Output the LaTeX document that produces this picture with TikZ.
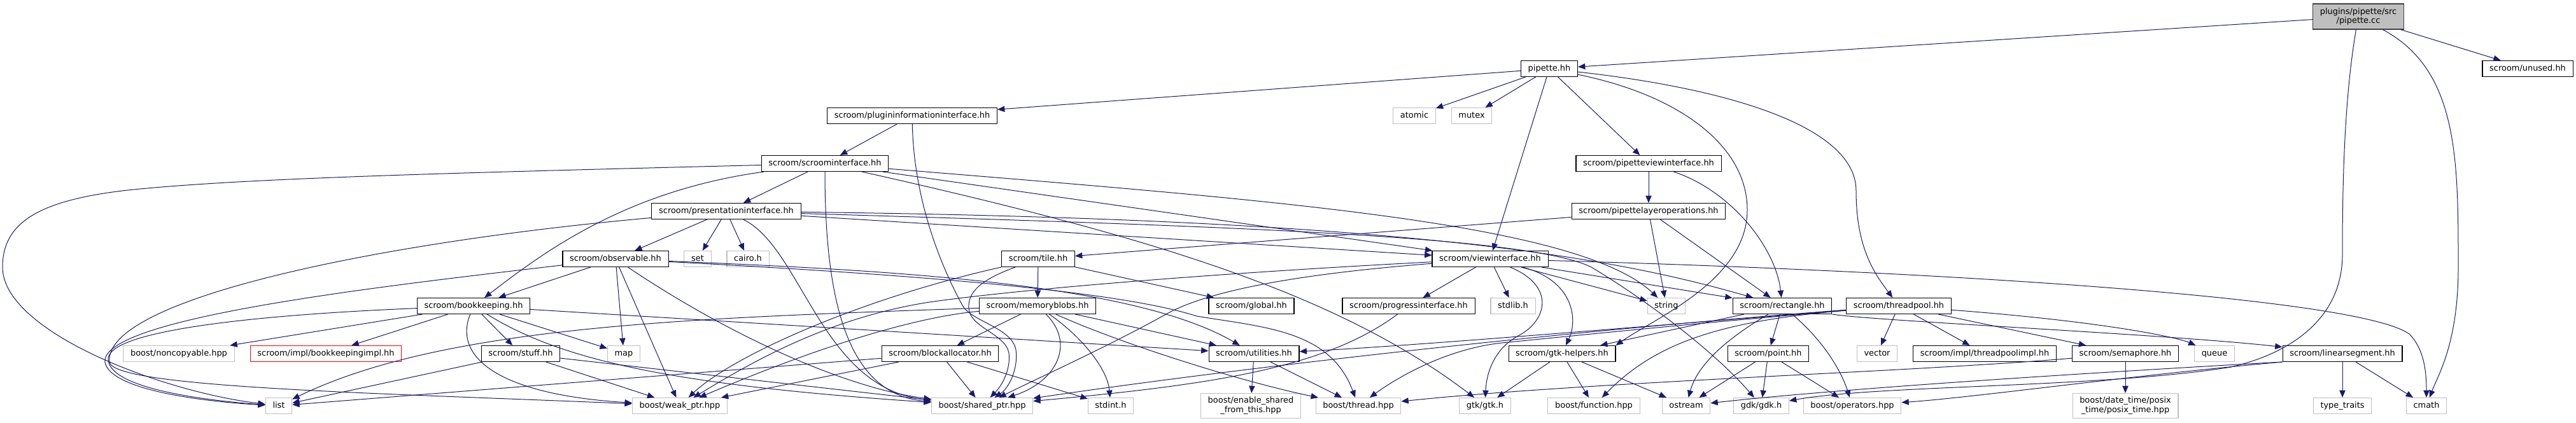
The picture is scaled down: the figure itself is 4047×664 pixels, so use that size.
\documentclass[tikz,border=0pt]{standalone}
\usepackage{fontspec}
\setmainfont{DejaVu Sans}
\usetikzlibrary{arrows.meta}
\definecolor{edgeblue}{HTML}{191970}
\definecolor{extgray}{HTML}{BFBFBF}
\newcommand{\graphfont}{\fontsize{9.7}{11.1}\selectfont}
\tikzset{
  file/.style={rectangle, line width=0.8pt, font=\graphfont, inner xsep=8.4pt, inner ysep=0pt, minimum height=18.75pt},
  oneline/.style={text height=7.4pt, text depth=2.3pt},
  hdr/.style={file, oneline, draw=black},
  ext/.style={file, oneline, draw=extgray},
  ext2/.style={file, draw=extgray, align=center, minimum height=29.25pt},
  trunc/.style={file, oneline, draw=red},
  root/.style={file, draw=black!75, fill=extgray, align=center, minimum height=30pt},
  dep/.style={draw=edgeblue, line width=0.75pt, -{Triangle[length=8.5pt,width=7pt]}}
}
\begin{document}
\begin{tikzpicture}[x=0.75pt,y=-0.75pt]
\useasboundingbox (0,0) rectangle (4047,664);

\node[root] (cc) at (3705,26) {plugins/pipette/src\\/pipette.cc};
\node[hdr] (pipettehh) at (2434,108) {pipette.hh};
\node[hdr] (unused) at (3971,108) {scroom/unused.hh};
\node[ext] (atomic) at (2222,182) {atomic};
\node[ext] (mutex) at (2312,182) {mutex};
\node[hdr] (plugininfo) at (1433,182) {scroom/plugininformationinterface.hh};
\node[hdr] (scroomif) at (1296,257) {scroom/scroominterface.hh};
\node[hdr] (pvif) at (2590,257) {scroom/pipetteviewinterface.hh};
\node[hdr] (presif) at (1141,332) {scroom/presentationinterface.hh};
\node[hdr] (plops) at (2590,332) {scroom/pipettelayeroperations.hh};
\node[hdr] (observable) at (967,407) {scroom/observable.hh};
\node[ext] (set) at (1096,407) {set};
\node[ext] (cairo) at (1175,407) {cairo.h};
\node[hdr] (tile) at (1631,407) {scroom/tile.hh};
\node[hdr] (viewif) at (2341,407) {scroom/viewinterface.hh};
\node[hdr] (bookkeeping) at (744,481) {scroom/bookkeeping.hh};
\node[hdr] (memoryblobs) at (1630,481) {scroom/memoryblobs.hh};
\node[hdr] (global) at (1966,481) {scroom/global.hh};
\node[hdr] (progressif) at (2213,481) {scroom/progressinterface.hh};
\node[ext] (stdlib) at (2377,481) {stdlib.h};
\node[ext] (string) at (2618,481) {string};
\node[hdr] (rectangle) at (2800,481) {scroom/rectangle.hh};
\node[hdr] (threadpool) at (2983,481) {scroom/threadpool.hh};
\node[ext] (noncopyable) at (281,556) {boost/noncopyable.hpp};
\node[trunc] (bkimpl) at (512,556) {scroom/impl/bookkeepingimpl.hh};
\node[hdr] (stuff) at (818,556) {scroom/stuff.hh};
\node[ext] (map) at (980,556) {map};
\node[hdr] (blockalloc) at (1477,556) {scroom/blockallocator.hh};
\node[hdr] (utilities) at (1970,556) {scroom/utilities.hh};
\node[hdr] (gtkhelpers) at (2454,556) {scroom/gtk-helpers.hh};
\node[hdr] (point) at (2778,556) {scroom/point.hh};
\node[ext] (vector) at (2949,556) {vector};
\node[hdr] (tpimpl) at (3118,556) {scroom/impl/threadpoolimpl.hh};
\node[hdr] (semaphore) at (3339,556) {scroom/semaphore.hh};
\node[ext] (queue) at (3479,556) {queue};
\node[hdr] (linseg) at (3680,556) {scroom/linearsegment.hh};
\node[ext] (list) at (438,638) {list};
\node[ext] (weakptr) at (1068,638) {boost/weak\_ptr.hpp};
\node[ext] (sharedptr) at (1543,638) {boost/shared\_ptr.hpp};
\node[ext] (stdint) at (1745,638) {stdint.h};
\node[ext2] (enable) at (1965,638) {boost/enable\_shared\\\_from\_this.hpp};
\node[ext] (thread) at (2134,638) {boost/thread.hpp};
\node[ext] (gtk) at (2333,638) {gtk/gtk.h};
\node[ext] (function) at (2504,638) {boost/function.hpp};
\node[ext] (ostream) at (2649,638) {ostream};
\node[ext] (gdk) at (2767,638) {gdk/gdk.h};
\node[ext] (operators) at (2910,638) {boost/operators.hpp};
\node[ext2] (datetime) at (3339,638) {boost/date\_time/posix\\\_time/posix\_time.hpp};
\node[ext] (typetraits) at (3680,638) {type\_traits};
\node[ext] (cmath) at (3812,638) {cmath};

\draw[dep] (cc) -- (pipettehh);
\draw[dep] (cc) -- (unused);
\draw[dep] (cc) .. controls (3862,110) and (3862,250) .. (3862,420) .. controls (3862,540) and (3830,590) .. (cmath);
\draw[dep] (cc) .. controls (3682,160) and (3680,300) .. (3680,400) .. controls (3680,500) and (3600,555) .. (3505,577) .. controls (3300,610) and (2950,605) .. (gdk);

\draw[dep] (pipettehh) -- (plugininfo);
\draw[dep] (pipettehh) -- (atomic);
\draw[dep] (pipettehh) -- (mutex);
\draw[dep] (pipettehh) -- (viewif);
\draw[dep] (pipettehh) -- (pvif);
\draw[dep] (pipettehh) .. controls (2720,140) and (2916,200) .. (2916,300) .. controls (2916,390) and (2945,430) .. (threadpool);
\draw[dep] (pipettehh) .. controls (2640,150) and (2745,230) .. (2745,330) .. controls (2745,440) and (2600,500) .. (gtkhelpers.north east);

\draw[dep] (plugininfo) -- (scroomif);
\draw[dep] (plugininfo) .. controls (1436,330) and (1490,440) .. (1512,480) .. controls (1525,505) and (1590,515) .. (1596,550) .. controls (1600,580) and (1585,610) .. (sharedptr);

\draw[dep] (scroomif) .. controls (700,272) and (400,280) .. (220,297) .. controls (60,312) and (4,350) .. (4,420) .. controls (4,520) and (250,615) .. (list);
\draw[dep] (scroomif) .. controls (980,300) and (850,400) .. (bookkeeping);
\draw[dep] (scroomif) -- (presif);
\draw[dep] (scroomif) .. controls (1296,470) and (1330,620) .. (sharedptr);
\draw[dep] (scroomif) .. controls (2000,315) and (2480,350) .. (string);
\draw[dep] (scroomif) -- (viewif);
\draw[dep] (scroomif) .. controls (1800,370) and (2100,460) .. (gtk);

\draw[dep] (presif) .. controls (600,380) and (160,470) .. (172,570) .. controls (185,610) and (600,618) .. (weakptr);
\draw[dep] (presif) -- (observable);
\draw[dep] (presif) -- (set);
\draw[dep] (presif) -- (cairo);
\draw[dep] (presif) .. controls (1260,390) and (1290,610) .. (sharedptr);
\draw[dep] (presif) -- (viewif);
\draw[dep] (presif) .. controls (2250,345) and (2550,410) .. (rectangle);
\draw[dep] (presif) .. controls (1900,355) and (2400,370) .. (2500,420) .. controls (2600,480) and (2700,560) .. (gdk);

\draw[dep] (observable) .. controls (600,450) and (155,500) .. (165,570) .. controls (175,615) and (330,632) .. (list);
\draw[dep] (observable) -- (bookkeeping);
\draw[dep] (observable) -- (map);
\draw[dep] (observable) -- (weakptr);
\draw[dep] (observable) .. controls (1150,530) and (1330,610) .. (sharedptr);
\draw[dep] (observable) .. controls (1400,425) and (1780,445) .. (utilities);
\draw[dep] (observable) .. controls (1400,430) and (1750,455) .. (1880,497) .. controls (1990,515) and (2090,520) .. (thread);

\draw[dep] (bookkeeping) .. controls (400,495) and (168,520) .. (170,565) .. controls (172,612) and (330,630) .. (list);
\draw[dep] (bookkeeping) -- (noncopyable);
\draw[dep] (bookkeeping) -- (bkimpl);
\draw[dep] (bookkeeping) -- (stuff);
\draw[dep] (bookkeeping) -- (map);
\draw[dep] (bookkeeping) .. controls (712,560) and (780,620) .. (weakptr);
\draw[dep] (bookkeeping) .. controls (880,565) and (1050,605) .. (sharedptr);
\draw[dep] (bookkeeping) -- (utilities);

\draw[dep] (stuff) -- (list);
\draw[dep] (stuff) -- (weakptr);
\draw[dep] (stuff) -- (sharedptr);

\draw[dep] (tile) -- (memoryblobs);
\draw[dep] (tile) -- (global);
\draw[dep] (tile) .. controls (1540,440) and (1520,460) .. (1522,485) .. controls (1524,515) and (1580,525) .. (1585,555) .. controls (1588,580) and (1575,605) .. (sharedptr);
\draw[dep] (tile) .. controls (1350,470) and (1150,560) .. (weakptr);

\draw[dep] (memoryblobs) .. controls (1100,500) and (700,510) .. (list);
\draw[dep] (memoryblobs) .. controls (1420,500) and (1250,560) .. (weakptr);
\draw[dep] (memoryblobs) -- (blockalloc);
\draw[dep] (memoryblobs) .. controls (1690,540) and (1660,600) .. (sharedptr);
\draw[dep] (memoryblobs) .. controls (1700,530) and (1740,580) .. (stdint);
\draw[dep] (memoryblobs) -- (utilities);
\draw[dep] (memoryblobs) .. controls (1760,540) and (1950,600) .. (thread);

\draw[dep] (blockalloc) -- (list);
\draw[dep] (blockalloc) -- (weakptr);
\draw[dep] (blockalloc) -- (sharedptr);
\draw[dep] (blockalloc) -- (stdint);

\draw[dep] (utilities) -- (enable);
\draw[dep] (utilities) -- (thread);

\draw[dep] (viewif) -- (progressif);
\draw[dep] (viewif) -- (stdlib);
\draw[dep] (viewif) -- (string);
\draw[dep] (viewif) -- (rectangle);
\draw[dep] (viewif) .. controls (2470,440) and (2480,500) .. (gtkhelpers);
\draw[dep] (viewif) .. controls (2445,450) and (2430,505) .. (2385,528) .. controls (2345,550) and (2335,590) .. (gtk);
\draw[dep] (viewif) .. controls (3000,425) and (3700,465) .. (3785,525) .. controls (3810,550) and (3812,590) .. (cmath);
\draw[dep] (viewif) .. controls (2050,430) and (1900,455) .. (1830,495) .. controls (1740,545) and (1640,590) .. (sharedptr);
\draw[dep] (viewif) .. controls (1900,430) and (1600,455) .. (1460,475) .. controls (1300,500) and (1180,570) .. (weakptr);

\draw[dep] (progressif) .. controls (2080,580) and (1900,605) .. (sharedptr);

\draw[dep] (pvif) -- (plops);
\draw[dep] (pvif) .. controls (2720,300) and (2790,390) .. (rectangle);

\draw[dep] (plops) -- (tile);
\draw[dep] (plops) -- (string);
\draw[dep] (plops) -- (rectangle);

\draw[dep] (rectangle) -- (point);
\draw[dep] (rectangle) .. controls (2870,540) and (2895,590) .. (operators);
\draw[dep] (rectangle) .. controls (2700,540) and (2665,580) .. (ostream);
\draw[dep] (rectangle) -- (gtkhelpers);
\draw[dep] (rectangle.south east) .. controls (2950,505) and (3400,525) .. (linseg);

\draw[dep] (threadpool) -- (vector);
\draw[dep] (threadpool) -- (tpimpl);
\draw[dep] (threadpool) -- (semaphore);
\draw[dep] (threadpool) .. controls (3300,505) and (3420,530) .. (queue);
\draw[dep] (threadpool) .. controls (2700,505) and (2600,540) .. (function);
\draw[dep] (threadpool) .. controls (2500,520) and (2200,545) .. (utilities);
\draw[dep] (threadpool) .. controls (2400,525) and (1900,585) .. (sharedptr);
\draw[dep] (threadpool) .. controls (2700,505) and (2500,525) .. (2370,538) .. controls (2280,545) and (2200,590) .. (thread);

\draw[dep] (point) -- (ostream);
\draw[dep] (point) -- (gdk);
\draw[dep] (point) -- (operators);

\draw[dep] (gtkhelpers) -- (gtk);
\draw[dep] (gtkhelpers) -- (function);
\draw[dep] (gtkhelpers) -- (ostream);

\draw[dep] (semaphore) -- (datetime);
\draw[dep] (semaphore) .. controls (3000,585) and (2500,600) .. (thread);

\draw[dep] (linseg) -- (typetraits);
\draw[dep] (linseg) -- (cmath);
\draw[dep] (linseg.south west) .. controls (3300,585) and (2900,610) .. (ostream);
\draw[dep] (linseg.south west) .. controls (3350,590) and (3100,625) .. (operators);
\end{tikzpicture}
\end{document}
